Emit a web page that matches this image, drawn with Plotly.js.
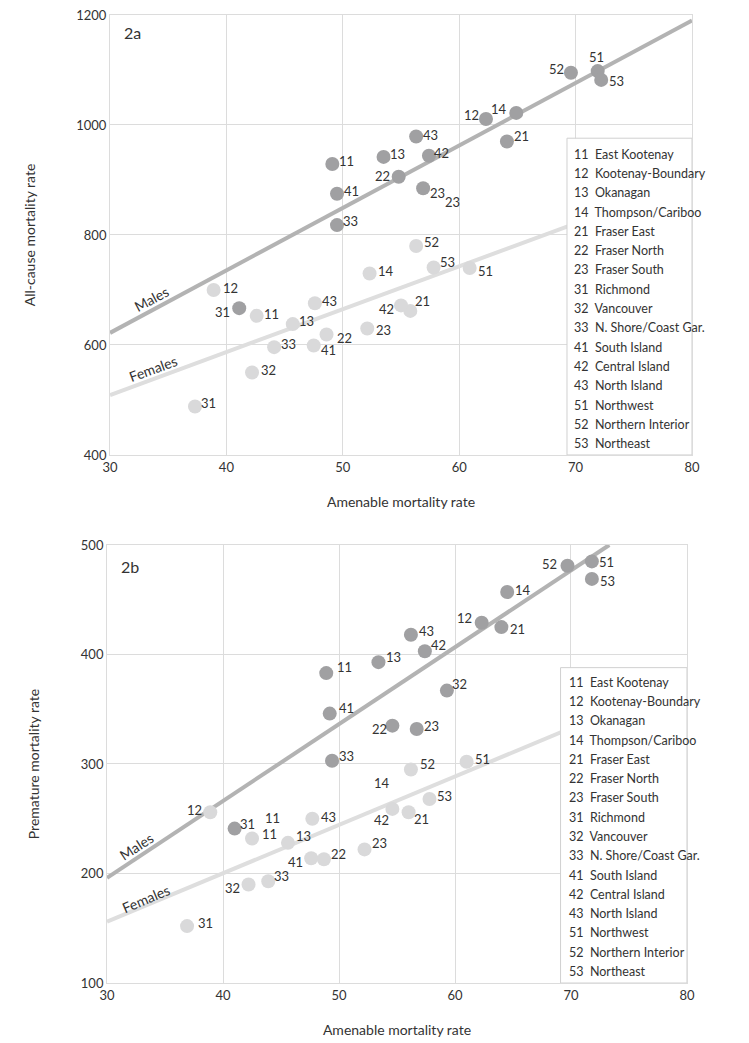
<!DOCTYPE html>
<html>
<head>
<meta charset="utf-8">
<script src="https://cdn.plot.ly/plotly-3.0.1.min.js"></script>
<style>
  body { margin: 0; background: #fff; }
  #chart { width: 749px; height: 1043px; }
</style>
</head>
<body>
<div id="chart"></div>
<script>
// health service delivery areas, same order in every array
var codes = ['11', '12', '13', '14', '21', '22', '23', '31', '32', '33', '41', '42', '43', '51', '52', '53'];
var names = ['East Kootenay', 'Kootenay-Boundary', 'Okanagan', 'Thompson/Cariboo', 'Fraser East',
  'Fraser North', 'Fraser South', 'Richmond', 'Vancouver', 'N. Shore/Coast Gar.', 'South Island',
  'Central Island', 'North Island', 'Northwest', 'Northern Interior', 'Northeast'];

// 2a: amenable (x) vs all-cause (y)
var aMaleX = [49.1, 62.3, 53.5, 64.9, 64.1, 54.8, 56.9, 41.1, null, 49.5, 49.5, 57.4, 56.3, 71.9, 69.6, 72.2];
var aMaleY = [929, 1011, 942, 1022, 970, 906, 885, 667, null, 818, 875, 944, 979, 1098, 1095, 1082];
var aFemX = [42.6, 38.9, 45.7, 52.3, 55.8, 48.6, 52.1, 37.3, 42.2, 44.1, 47.5, 55.0, 47.6, 60.9, 56.3, 57.8];
var aFemY = [653, 700, 638, 730, 662, 619, 630, 488, 550, 596, 599, 672, 676, 740, 780, 741];
var aMaleFitX = [30, 80], aMaleFitY = [622, 1190];
var aFemFitX = [30, 80], aFemFitY = [509, 899];

// 2b: amenable (x) vs premature (y)
var bMaleX = [48.9, 62.3, 53.4, 64.5, 64.0, 54.6, 56.7, 41.0, 59.3, 49.4, 49.2, 57.4, 56.2, 71.8, 69.7, 71.8];
var bMaleY = [383, 429, 393, 457, 425, 335, 332, 241, 367, 303, 346, 403, 418, 485, 481, 469];
var bFemX = [42.5, 38.9, 45.6, null, 56.0, 48.7, 52.2, 36.9, 42.2, 43.9, 47.6, 54.6, 47.7, 61.0, 56.2, 57.8];
var bFemY = [232, 256, 228, null, 256, 213, 222, 152, 190, 193, 214, 259, 250, 302, 295, 268];
var bMaleFitX = [30, 73.3], bMaleFitY = [196, 500];
var bFemFitX = [30, 80], bFemFitY = [156, 377];

// stray labels printed in the original figure
var strayLabels = [
  {text: '23', x: 59.4, y: 860, axis: ''},
  {text: '11', x: 44.3, y: 251, axis: '2'},
  {text: '14', x: 53.7, y: 283, axis: '2'}
];

// label offsets from each dot, in pixels [dx, dy] (dy down)
var aMaleOff = [[14, -3], [-14, -4], [14, -3], [-17, -4], [15, -5], [-16, -1], [14, 5], [-17, 4], [0, 0],
  [14, -4], [15, -3], [13, -3], [14, -2], [-1, -14], [-14, -4], [15, 1]];
var aFemOff = [[15, -2], [17, -2], [14, -3], [16, -2], [12, -10], [18, 3], [16, 2], [14, -4], [16, -2],
  [14, -3], [15, 4], [-15, 4], [15, -2], [16, 3], [15, -4], [14, -5]];
var bMaleOff = [[18, -6], [-17, -5], [15, -5], [16, -2], [16, 2], [-13, 3], [15, -3], [13, -5], [13, -7],
  [14, -5], [17, -6], [14, -6], [16, -4], [15, 1], [-18, -2], [16, 2]];
var bFemOff = [[17, -4], [-16, -2], [16, -7], [0, 0], [13, 7], [15, -5], [15, -6], [18, -3], [-16, 4],
  [13, -5], [-16, 4], [-11, 11], [16, -2], [16, -3], [17, -5], [15, -3]];

var FONT = 'Lato, "Open Sans", sans-serif';
var TXT = '#333';
var maleCol = '#a0a0a2', femCol = '#d9d9da';
var maleLine = '#b3b3b3', femLine = '#dedede';

function fit(x, y, col, xa, ya) {
  return {x: x, y: y, xaxis: xa, yaxis: ya, mode: 'lines', type: 'scatter',
    line: {color: col, width: 4}, hoverinfo: 'skip'};
}
function pts(x, y, col, xa, ya) {
  return {x: x, y: y, xaxis: xa, yaxis: ya, mode: 'markers', type: 'scatter',
    text: codes, marker: {color: col, size: 14}};
}

var data = [
  fit(aMaleFitX, aMaleFitY, maleLine, 'x', 'y'),
  fit(aFemFitX, aFemFitY, femLine, 'x', 'y'),
  pts(aFemX, aFemY, femCol, 'x', 'y'),
  pts(aMaleX, aMaleY, maleCol, 'x', 'y'),
  fit(bMaleFitX, bMaleFitY, maleLine, 'x2', 'y2'),
  fit(bFemFitX, bFemFitY, femLine, 'x2', 'y2'),
  pts(bFemX, bFemY, femCol, 'x2', 'y2'),
  pts(bMaleX, bMaleY, maleCol, 'x2', 'y2')
];

var grid = '#dcdcdc';
function xax(dom, anchor) {
  return {domain: dom, anchor: anchor, range: [30, 80], dtick: 10, showgrid: true, gridcolor: grid,
    zeroline: false, showline: true, mirror: true, linecolor: grid, ticks: '',
    tickfont: {family: FONT, size: 13, color: TXT},
    title: {text: 'Amenable mortality rate', font: {family: FONT, size: 14, color: TXT}, standoff: 23}};
}
function yax(dom, anchor, range, dtick, title) {
  return {domain: dom, anchor: anchor, range: range, dtick: dtick, showgrid: true, gridcolor: grid,
    zeroline: false, showline: true, mirror: true, linecolor: grid, ticks: '',
    tickfont: {family: FONT, size: 13, color: TXT},
    title: {text: title, font: {family: FONT, size: 14, color: TXT}, standoff: 37}};
}

var annotations = [
  {text: '2a', x: 31.0, y: 1169, xref: 'x', yref: 'y', xanchor: 'left', showarrow: false,
    font: {family: FONT, size: 16, color: TXT}},
  {text: '2b', x: 31.0, y: 480, xref: 'x2', yref: 'y2', xanchor: 'left', showarrow: false,
    font: {family: FONT, size: 16, color: TXT}},
  {text: 'Males', x: 33.6, y: 685, xref: 'x', yref: 'y', showarrow: false, textangle: -28,
    font: {family: FONT, size: 14, color: TXT}},
  {text: 'Females', x: 33.7, y: 558, xref: 'x', yref: 'y', showarrow: false, textangle: -20,
    font: {family: FONT, size: 14, color: TXT}},
  {text: 'Males', x: 32.5, y: 225, xref: 'x2', yref: 'y2', showarrow: false, textangle: -33,
    font: {family: FONT, size: 14, color: TXT}},
  {text: 'Females', x: 33.4, y: 177, xref: 'x2', yref: 'y2', showarrow: false, textangle: -23,
    font: {family: FONT, size: 14, color: TXT}}
];
strayLabels.forEach(function (s) {
  annotations.push({text: s.text, x: s.x, y: s.y, xref: 'x' + s.axis, yref: 'y' + s.axis,
    showarrow: false, font: {family: FONT, size: 13, color: TXT}});
});

// point labels, shifted off each dot
function labels(xs, ys, off, axis) {
  xs.forEach(function (x, i) {
    if (x === null) return;
    annotations.push({text: codes[i], x: x, y: ys[i], xref: 'x' + axis, yref: 'y' + axis,
      xshift: off[i][0], yshift: -off[i][1], showarrow: false,
      font: {family: FONT, size: 13, color: TXT}});
  });
}
labels(aMaleX, aMaleY, aMaleOff, '');
labels(aFemX, aFemY, aFemOff, '');
labels(bMaleX, bMaleY, bMaleOff, '2');
labels(bFemX, bFemY, bFemOff, '2');

// key boxes listing the area codes
var shapes = [
  {type: 'rect', xref: 'x', yref: 'y', x0: 69.26, x1: 80, y0: 400, y1: 976, layer: 'above',
    fillcolor: '#fff', line: {color: '#d0d0d0', width: 1}},
  {type: 'rect', xref: 'x2', yref: 'y2', x0: 69.1, x1: 80, y0: 100, y1: 388, layer: 'above',
    fillcolor: '#fff', line: {color: '#d0d0d0', width: 1}}
];
codes.forEach(function (c, i) {
  var label = c + '\u00a0 ' + names[i];
  annotations.push({text: label, xref: 'x', yref: 'y', x: 69.66, y: 947 - i * 35.1,
    xanchor: 'left', showarrow: false, font: {family: FONT, size: 12.5, color: TXT}});
  annotations.push({text: label, xref: 'x2', yref: 'y2', x: 69.63, y: 374.6 - i * 17.6,
    xanchor: 'left', showarrow: false, font: {family: FONT, size: 12.5, color: TXT}});
});

var layout = {
  width: 749, height: 1043,
  margin: {l: 0, r: 0, t: 0, b: 0},
  paper_bgcolor: '#fff', plot_bgcolor: '#fff',
  showlegend: false,
  hovermode: false,
  font: {family: FONT, color: TXT},
  xaxis: xax([0.1469, 0.9239], 'y'),
  yaxis: yax([0.5638, 0.9856], 'x', [400, 1200], 200, 'All-cause mortality rate'),
  xaxis2: xax([0.1429, 0.9172], 'y2'),
  yaxis2: yax([0.0575, 0.4775], 'x2', [100, 500], 100, 'Premature mortality rate'),
  shapes: shapes,
  annotations: annotations
};

Plotly.newPlot('chart', data, layout, {displayModeBar: false});
</script>
</body>
</html>
